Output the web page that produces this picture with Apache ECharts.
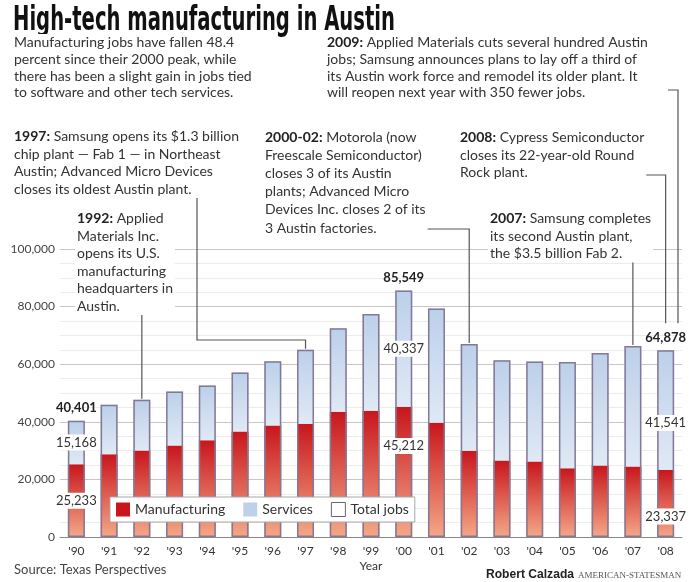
<!DOCTYPE html>
<html><head><meta charset="utf-8">
<script src="https://cdn.jsdelivr.net/npm/echarts@6/dist/echarts.min.js"></script>
<style>html,body{margin:0;padding:0;background:#fff}#c{width:692px;height:582px}</style>
</head><body><div id="c"></div>
<script>
const years = ["'90","'91","'92","'93","'94","'95","'96","'97","'98","'99","'00","'01","'02","'03","'04","'05","'06","'07","'08"];
const manufacturing = [25233,28760,30020,31760,33620,36640,38720,39300,43480,43830,45212,39650,29910,26550,26200,23880,24800,24460,23337];
const services = [15168,17140,17630,18780,19010,20510,22280,25740,28970,33630,40337,39650,37120,34780,34780,36920,39090,41870,41541];
const totals = [40401,45900,47650,50540,52630,57150,61000,65040,72450,77460,85549,79300,67030,61330,60980,60800,63890,66330,64878];
const yTicks = [0,20000,40000,60000,80000,100000];
const labelledYears = ["'90","'00","'08"];

const FONT = 'Lato, "Open Sans", sans-serif';
const fmt = v => v.toLocaleString('en-US');
const chart = echarts.init(document.getElementById('c'), null, {renderer:'canvas'});

const mfgOffset = {"'90":0,"'00":-26,"'08":13};
const svcOffset = {"'90":0,"'00":0,"'08":13};
const segLabel = (off) => ({show:true, position:'inside', offset:[0,off], color:'#333', fontSize:13, fontFamily:FONT,
  textBorderWidth:0, backgroundColor:'#ffffff', padding:[2,3,1,3], formatter: p => fmt(p.value)});
const hidden = {show:false};

const mfgLabelData = manufacturing.map((v,i)=> ({value:v, label: labelledYears.includes(years[i]) ? segLabel(mfgOffset[years[i]]) : hidden}));
const svcLabelData = services.map((v,i)=> ({value:v, label: labelledYears.includes(years[i]) ? segLabel(svcOffset[years[i]]) : hidden}));
const totData = totals.map((v,i)=> labelledYears.includes(years[i]) ? {value:v, label:{show:true, position:'top', distance:6, color:'#222', fontWeight:'bold', fontSize:13, fontFamily:FONT, formatter:p=>fmt(p.value)}} : v);

const red = new echarts.graphic.LinearGradient(0,0,0,1,[{offset:0,color:'#c8161c'},{offset:1,color:'#f4a888'}]);
const blue = new echarts.graphic.LinearGradient(0,0,0,1,[{offset:0,color:'#bcd0ea'},{offset:1,color:'#e0e9f5'}]);
const W = 17;

chart.setOption({
  animation:false,
  backgroundColor:'#fff',
  grid:{left:60, right:10, top:249, bottom:45},
  xAxis:{type:'category', data:years, axisLine:{lineStyle:{color:'#888'}}, axisTick:{show:false},
    axisLabel:{color:'#333', fontSize:12, fontFamily:FONT, margin:8},
    name:'Year', nameLocation:'middle', nameGap:23, nameTextStyle:{color:'#333', fontSize:12, fontFamily:FONT}},
  yAxis:{type:'value', min:yTicks[0], max:yTicks[yTicks.length-1], interval:20000,
    axisLine:{show:false}, axisTick:{show:false},
    axisLabel:{color:'#444', fontSize:12, fontFamily:FONT, margin:5, formatter:fmt},
    splitLine:{lineStyle:{color:'#c6c6c6'}},
    minorTick:{show:false, splitNumber:4}, minorSplitLine:{show:true, lineStyle:{color:'#ececec'}}},
  legend:{left:110, top:497, z:10, backgroundColor:'#fff', borderColor:'#a8a8a8', borderWidth:1, padding:[5,6,5,6],
    itemWidth:14, itemHeight:14, itemGap:18, textStyle:{color:'#333', fontSize:14, fontFamily:FONT},
    data:[{name:'Manufacturing', icon:'rect', itemStyle:{color:'#c8161c'}},
          {name:'Services', icon:'rect', itemStyle:{color:'#bfd1ea'}},
          {name:'Total jobs', icon:'rect', itemStyle:{color:'#fff', borderColor:'#6d607a', borderWidth:1}}]},
  series:[
    {name:'Manufacturing', type:'bar', stack:'jobs', barWidth:W, barGap:'-100%', data:manufacturing, z:2, itemStyle:{color:red}},
    {name:'Services', type:'bar', stack:'jobs', barWidth:W, barGap:'-100%', data:services, z:2, itemStyle:{color:blue}},
    {name:'Total jobs', type:'bar', barWidth:W, barGap:'-100%', data:totData, z:3,
      itemStyle:{color:'rgba(0,0,0,0)', borderColor:'#857896', borderWidth:1.5}},
    {name:'mfg-labels', type:'bar', stack:'labels', barWidth:W, barGap:'-100%', data:mfgLabelData, z:4, silent:true,
      itemStyle:{color:'rgba(0,0,0,0)'}},
    {name:'svc-labels', type:'bar', stack:'labels', barWidth:W, barGap:'-100%', data:svcLabelData, z:4, silent:true,
      itemStyle:{color:'rgba(0,0,0,0)'}}
  ]
});

function ann(x, y, text, lh){
  lh = lh || 17.5;
  return {type:'text', x:x, y:y, z:100, style:{text:text, fill:'#333', font:'14px '+FONT, lineHeight:lh,
    backgroundColor:'#fff', padding:[0,2],
    rich:{b:{fontWeight:'bold', fill:'#222', fontSize:14, fontFamily:FONT, lineHeight:lh}}}};
}
function barTop(idx){ return chart.convertToPixel({xAxisIndex:0, yAxisIndex:0}, [idx, totals[idx]]); }
function line(pts){ return {type:'polyline', z:90, shape:{points:pts}, style:{stroke:'#555', lineWidth:1.2, fill:null}}; }

const ctx = document.createElement('canvas').getContext('2d');
const titleFont = 'bold 34px "Liberation Sans Narrow", "DejaVu Sans Condensed", "Liberation Sans", sans-serif';
ctx.font = titleFont;
const titleText = 'High-tech manufacturing in Austin';
const tw = ctx.measureText(titleText).width;
const bylineFont = 'bold 13px "Liberation Sans Narrow", "Liberation Sans", sans-serif';
ctx.font = bylineFont;
const bw = ctx.measureText('Robert Calzada').width;

const p92 = barTop(2), p97 = barTop(7), p02 = barTop(12), p07 = barTop(17), p08 = barTop(18);
chart.setOption({graphic:[
  {type:'text', x:13, y:4, z:100, scaleX:382/tw, style:{text:titleText, font:titleFont, fill:'#111'}},
  ann(12, 34, 'Manufacturing jobs have fallen 48.4\npercent since their 2000 peak, while\nthere has been a slight gain in jobs tied\nto software and other tech services.', 16.8),
  ann(325, 34, '{b|2009:} Applied Materials cuts several hundred Austin\njobs; Samsung announces plans to lay off a third of\nits Austin work force and remodel its older plant. It\nwill reopen next year with 350 fewer jobs.', 16.8),
  ann(12, 128, '{b|1997:} Samsung opens its $1.3 billion\nchip plant \u2014 Fab 1 \u2014 in Northeast\nAustin; Advanced Micro Devices\ncloses its oldest Austin plant.'),
  ann(263, 128, '{b|2000-02:} Motorola (now\nFreescale Semiconductor)\ncloses 3 of its Austin\nplants; Advanced Micro\nDevices Inc. closes 2 of its\n3 Austin factories.', 18.2),
  ann(458, 129, '{b|2008:} Cypress Semiconductor\ncloses its 22-year-old Round\nRock plant.'),
  ann(75, 210, '{b|1992:} Applied\nMaterials Inc.\nopens its U.S.\nmanufacturing\nheadquarters in\nAustin.'),
  ann(488, 210, '{b|2007:} Samsung completes\nits second Austin plant,\nthe $3.5 billion Fab 2.'),
  line([[p92[0], 313],[p92[0], p92[1]-1]]),
  line([[197, 198],[197, 340],[p97[0], 340],[p97[0], p97[1]-1]]),
  line([[392, 229],[p02[0], 229],[p02[0], p02[1]-1]]),
  line([[p07[0], 251],[p07[0], p07[1]-1]]),
  line([[548, 175],[p08[0], 175],[p08[0], p08[1]-27]]),
  line([[668, 90],[678, 90],[678, p08[1]-27]]),
  {type:'text', x:14, y:563, z:100, style:{text:'Source: Texas Perspectives', font:'13px '+FONT, fill:'#444'}},
  {type:'text', x:486, y:568, z:100, scaleX:88/bw, style:{text:'Robert Calzada', font:bylineFont, fill:'#222'}},
  {type:'text', x:578, y:571, z:100, style:{text:'AMERICAN-STATESMAN', font:'9px "Liberation Serif", serif', fill:'#555'}}
]});
</script></body></html>
